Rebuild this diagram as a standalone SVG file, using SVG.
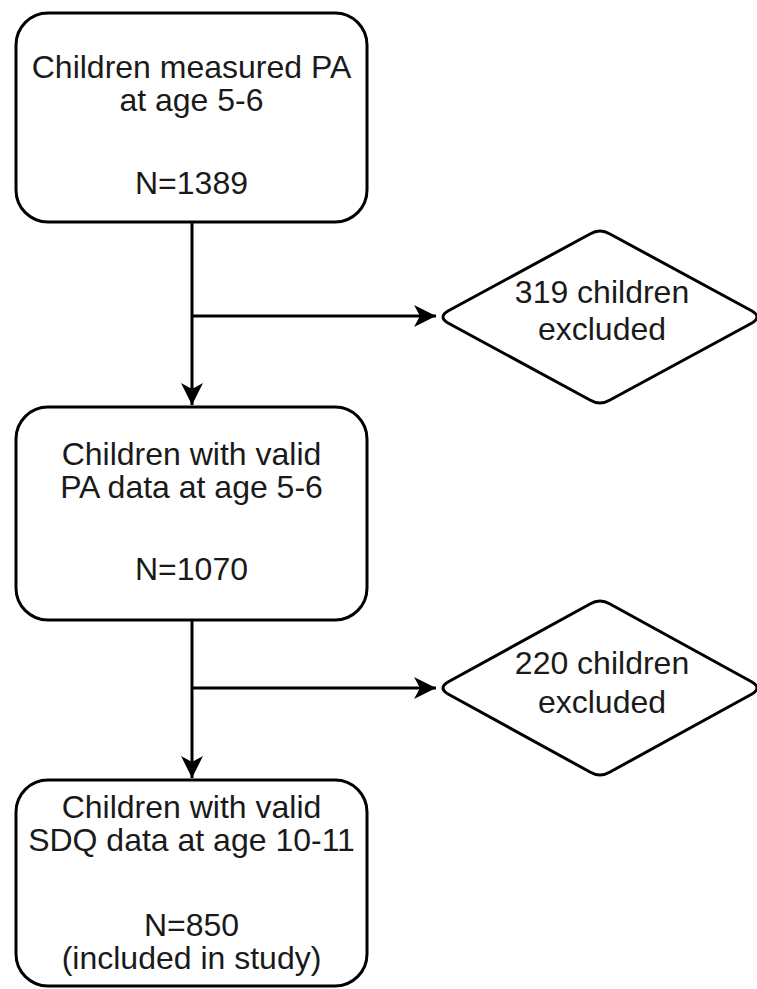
<svg xmlns="http://www.w3.org/2000/svg" width="757" height="989" viewBox="0 0 757 989">
<defs>
<style>
.box{fill:#fff;stroke:#000;stroke-width:3}
.dia{fill:#fff;stroke:#000;stroke-width:3;stroke-linejoin:round}
.lbl{font-family:"Liberation Sans",Arial,Helvetica,sans-serif;font-size:32px;fill:#1a1a1a;text-anchor:middle}
.edge{fill:none;stroke:#000;stroke-width:3}
</style>
<marker id="arr" viewBox="0 0 24 24" refX="22" refY="12" markerWidth="24" markerHeight="24" markerUnits="userSpaceOnUse" orient="auto">
<path d="M0,1 L22,12 L0,23 L6,12 Z" fill="#000"/>
</marker>
</defs>
<rect width="757" height="989" fill="#fff"/>
<g id="edges">
<path class="edge" d="M192,222 L192,405" marker-end="url(#arr)"/>
<path class="edge" d="M192,316 L436,316" marker-end="url(#arr)"/>
<path class="edge" d="M192,620 L192,778" marker-end="url(#arr)"/>
<path class="edge" d="M192,688 L436,688" marker-end="url(#arr)"/>
</g>
<g id="n1">
<rect class="box" x="16" y="13" width="351" height="209" rx="32" ry="32"/>
<text class="lbl" x="191.5" y="78">Children measured PA</text>
<text class="lbl" x="191.5" y="111">at age 5-6</text>
<text class="lbl" x="191.5" y="194">N=1389</text>
</g>
<g id="d1">
<path class="dia" d="M610,234 Q600,228 590,234 L448,311 Q438,317 448,323 L590,400 Q600,406 610,400 L752,323 Q762,317 752,311 Z"/>
<text class="lbl" x="602" y="303">319 children</text>
<text class="lbl" x="602" y="340">excluded</text>
</g>
<g id="n2">
<rect class="box" x="16" y="407" width="351" height="213" rx="32" ry="32"/>
<text class="lbl" x="191.5" y="465">Children with valid</text>
<text class="lbl" x="191.5" y="498">PA data at age 5-6</text>
<text class="lbl" x="191.5" y="580">N=1070</text>
</g>
<g id="d2">
<path class="dia" d="M610,604 Q600,598 590,604 L448,682 Q438,688 448,694 L590,772 Q600,778 610,772 L752,694 Q762,688 752,682 Z"/>
<text class="lbl" x="602" y="674">220 children</text>
<text class="lbl" x="602" y="713">excluded</text>
</g>
<g id="n3">
<rect class="box" x="16" y="780" width="351" height="206" rx="32" ry="32"/>
<text class="lbl" x="191.5" y="818">Children with valid</text>
<text class="lbl" x="191.5" y="851">SDQ data at age 10-11</text>
<text class="lbl" x="191.5" y="936">N=850</text>
<text class="lbl" x="191.5" y="969">(included in study)</text>
</g>
</svg>
